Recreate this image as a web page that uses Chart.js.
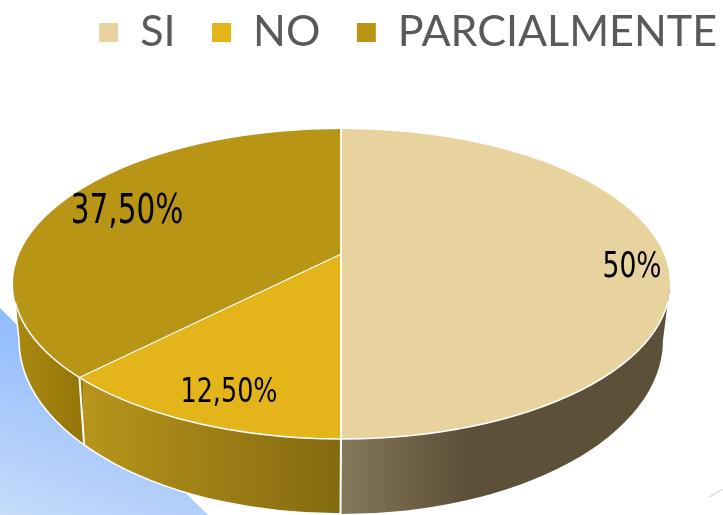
<!DOCTYPE html>
<html>
<head>
<meta charset="utf-8">
<script src="https://cdn.jsdelivr.net/npm/chart.js@4"></script>
<style>
  html, body { margin: 0; padding: 0; background: #fff; overflow: hidden; }
  #wrap { position: relative; width: 723px; height: 515px; overflow: hidden; }
  #corner { position: absolute; left: 0; top: 0; width: 723px; height: 515px;
    clip-path: polygon(0 308px, 208px 515px, 0 515px);
    background: linear-gradient(20deg, #c6dcfa 0%, #b2cffa 10%, #8fbbfd 27%); }
  #streak { position: absolute; left: 708px; top: 492px; width: 18px; height: 1px;
    background: #cfcfcf; transform: rotate(-30deg); }
  canvas { position: absolute; left: 0; top: 0; }
</style>
</head>
<body>
<div id="wrap">
  <div id="corner"></div>
  <div id="streak"></div>
  <canvas id="pie" width="723" height="515"></canvas>
</div>
<script>
const categories = ["SI", "NO", "PARCIALMENTE"];
const percentages = [50, 12.5, 37.5];
const sliceColors = ["#E8D29E", "#E3B51B", "#B89515"];

// side wall shading, left to right, per slice
const wallStops = [
  [[0, "#85775B"], [0.38, "#5C5039"], [1, "#5C5039"]],
  [[0, "#B8951C"], [1, "#846A10"]],
  [[0, "#AD8B12"], [1, "#947508"]],
];

// label placement and size, per slice
const labelSpots = [
  { x: 632, y: 268, size: 36 },
  { x: 229, y: 393, size: 34.5 },
  { x: 127, y: 213, size: 40 },
];
const LABEL_SQUEEZE = 0.82;

// tilted disc seen in perspective: the apex sits above the centre of the rim
const APEX = { x: 341, y: 254 };
const TILT = 0.472;
const DISC_REACH = 400;
const RIM = { x: 341.5, y: 284, rx: 328.5, ry: 155 };
const FLOOR = { x: 341, y: 340, rx: 322, ry: 174 };

function formatPct(v) {
  return Number.isInteger(v) ? v + "%" : v.toFixed(2).replace(".", ",") + "%";
}

// where a slice edge leaving the apex meets the rim
function rimPoint(angle) {
  const dx = Math.cos(angle) / RIM.rx;
  const dy = (Math.sin(angle) * TILT) / RIM.ry;
  const ox = (APEX.x - RIM.x) / RIM.rx;
  const oy = (APEX.y - RIM.y) / RIM.ry;
  const a = dx * dx + dy * dy;
  const b = 2 * (ox * dx + oy * dy);
  const c = ox * ox + oy * oy - 1;
  const t = (-b + Math.sqrt(b * b - 4 * a * c)) / (2 * a);
  return { x: APEX.x + Math.cos(angle) * t, y: APEX.y + Math.sin(angle) * t * TILT };
}

function floorX(x) {
  return FLOOR.x + ((x - RIM.x) * FLOOR.rx) / RIM.rx;
}

function wallPath(ctx) {
  ctx.beginPath();
  ctx.ellipse(RIM.x, RIM.y, RIM.rx, RIM.ry, 0, 0, Math.PI);
  ctx.ellipse(FLOOR.x, FLOOR.y, FLOOR.rx, FLOOR.ry, 0, Math.PI, 0, true);
  ctx.closePath();
}

const tiltedPie = {
  id: "tiltedPie",
  beforeDatasetsDraw(chart) {
    const ctx = chart.ctx;
    const arcs = chart.getDatasetMeta(0).data;

    // side walls
    arcs.forEach(function (arc, i) {
      const p = arc.getProps(["startAngle", "endAngle"], true);
      const start = Math.max(p.startAngle, 0);
      const end = Math.min(p.endAngle, Math.PI);
      if (end <= start) return;
      const right = p.startAngle <= 0 ? RIM.x + RIM.rx + 4 : rimPoint(start).x;
      const left = end >= Math.PI ? RIM.x - RIM.rx - 4 : rimPoint(end).x;
      ctx.save();
      ctx.beginPath();
      ctx.moveTo(left, 0);
      ctx.lineTo(right, 0);
      ctx.lineTo(floorX(right), 515);
      ctx.lineTo(floorX(left), 515);
      ctx.closePath();
      ctx.clip();
      // tan wall runs from the front seam to the right, the rest end at the seam
      const g = i === 0
        ? ctx.createLinearGradient(RIM.x, 0, RIM.x + RIM.rx, 0)
        : ctx.createLinearGradient(left, 0, right, 0);
      wallStops[i].forEach(function (s) {
        g.addColorStop(s[0], s[1]);
      });
      ctx.fillStyle = g;
      wallPath(ctx);
      ctx.fill();
      ctx.restore();
    });

    // outline and seams on the wall
    ctx.save();
    ctx.strokeStyle = "#fff";
    ctx.lineWidth = 1.5;
    ctx.beginPath();
    ctx.moveTo(RIM.x - RIM.rx, RIM.y);
    ctx.ellipse(FLOOR.x, FLOOR.y, FLOOR.rx, FLOOR.ry, 0, Math.PI, Math.PI / 2, true);
    ctx.stroke();
    arcs.forEach(function (arc) {
      const a = arc.getProps(["endAngle"], true).endAngle;
      if (a <= 0 || a >= Math.PI * 1.01) return;
      const top = rimPoint(a);
      const bottomX = floorX(top.x);
      const u = (bottomX - FLOOR.x) / FLOOR.rx;
      ctx.lineWidth = 2;
      ctx.beginPath();
      ctx.moveTo(top.x, top.y);
      ctx.lineTo(bottomX, FLOOR.y + FLOOR.ry * Math.sqrt(1 - u * u));
      ctx.stroke();
    });
    ctx.restore();

    // top face: the library's arcs squashed onto the disc and cut at the rim
    const arc = arcs[0];
    const zoom = DISC_REACH / arc.outerRadius;
    ctx.save();
    ctx.beginPath();
    ctx.ellipse(RIM.x, RIM.y, RIM.rx, RIM.ry, 0, 0, Math.PI * 2);
    ctx.clip();
    ctx.translate(APEX.x, APEX.y);
    ctx.scale(zoom, zoom * TILT);
    ctx.translate(-arc.x, -arc.y);
  },
  afterDatasetsDraw(chart) {
    const ctx = chart.ctx;
    ctx.restore();

    // white line where the top face meets the wall
    ctx.save();
    ctx.strokeStyle = "#fff";
    ctx.lineWidth = 1.5;
    ctx.beginPath();
    ctx.ellipse(RIM.x, RIM.y, RIM.rx, RIM.ry, 0, 0.12, Math.PI - 0.12);
    ctx.stroke();
    ctx.restore();

    percentages.forEach(function (v, i) {
      const spot = labelSpots[i];
      ctx.save();
      ctx.fillStyle = "#000";
      ctx.textAlign = "center";
      ctx.textBaseline = "middle";
      ctx.font = spot.size + 'px "DejaVu Sans Condensed", "DejaVu Sans", sans-serif';
      ctx.translate(spot.x, spot.y);
      ctx.scale(LABEL_SQUEEZE, 1);
      ctx.fillText(formatPct(v), 0, 0);
      ctx.restore();
    });
  },
};

new Chart(document.getElementById("pie"), {
  type: "pie",
  data: {
    labels: categories,
    datasets: [
      {
        data: percentages,
        backgroundColor: sliceColors,
        borderColor: "#ffffff",
        borderWidth: 1,
        clip: false,
      },
    ],
  },
  options: {
    responsive: false,
    animation: false,
    // legend padding also pushes it down and in, so pull it back out
    layout: { padding: { top: -25, right: -30 } },
    plugins: {
      tooltip: { enabled: false },
      legend: {
        position: "top",
        align: "end",
        labels: {
          boxWidth: 20,
          boxHeight: 20,
          padding: 36,
          color: "#595959",
          font: { size: 43, family: 'Lato, "Liberation Sans", sans-serif' },
        },
      },
    },
  },
  plugins: [tiltedPie],
});
</script>
</body>
</html>
